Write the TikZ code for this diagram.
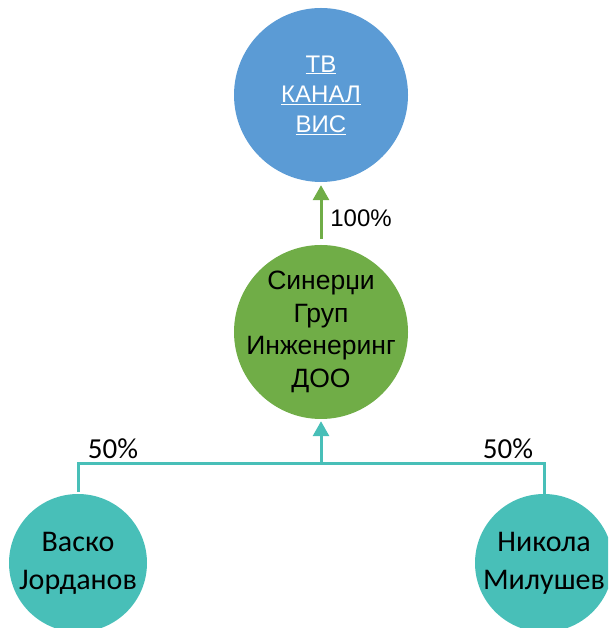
\documentclass[tikz,border=0pt]{standalone}
\usepackage{fontspec}
\setmainfont{Liberation Sans}
\newfontfamily\calibri{Carlito}
\usetikzlibrary{arrows.meta}
\definecolor{visblue}{HTML}{5B9BD5}
\definecolor{sgreen}{HTML}{70AD47}
\definecolor{owner}{HTML}{48BFB8}
\tikzstyle{firm}=[circle,minimum size=174pt,inner sep=-16pt,align=center]
\tikzstyle{person}=[circle,fill=owner,minimum size=138pt,inner sep=-14pt,align=center,font=\calibri\fontsize{30}{38}\selectfont]
\tikzstyle{share}=[line width=3pt,-{Triangle[width=16pt,length=15pt]}]

\begin{document}
\begin{tikzpicture}[x=1pt,y=1pt]
\clip (0,0) rectangle (608,628);
\node[firm,fill=visblue,text=white,font=\fontsize{24}{30}\selectfont] (vis) at (321, 533) {\underline{ТВ}\\\underline{КАНАЛ}\\\underline{ВИС}};
\node[firm,fill=sgreen,font=\fontsize{26.5}{32.5}\selectfont] (synergy) at (321, 296) {Синерџи\\Груп\\Инженеринг\\ДОО};
\node[person] (vasko) at (78, 65) {Васко\\Јорданов};
\node[person] (nikola) at (544, 65) {Никола\\Милушев};
\coordinate (left) at (78, 164);
\coordinate (mid) at (321, 164);
\coordinate (right) at (544, 164);
\draw[share, sgreen, shorten <=6pt, shorten >=3pt] (synergy) -- (vis);
\draw[line width=3pt, owner, shorten <=2pt] (vasko.north) -- (left) -- (right) -- (nikola.north);
\draw[share, owner, shorten >=2pt] (mid) -- (synergy);
\node[font=\fontsize{24}{28}\selectfont] (p100) at (361, 410) {100\%};
\node[font=\calibri\fontsize{29}{32}\selectfont] (p50a) at (113, 179) {50\%};
\node[font=\calibri\fontsize{29}{32}\selectfont] (p50b) at (508, 179) {50\%};
\end{tikzpicture}
\end{document}
